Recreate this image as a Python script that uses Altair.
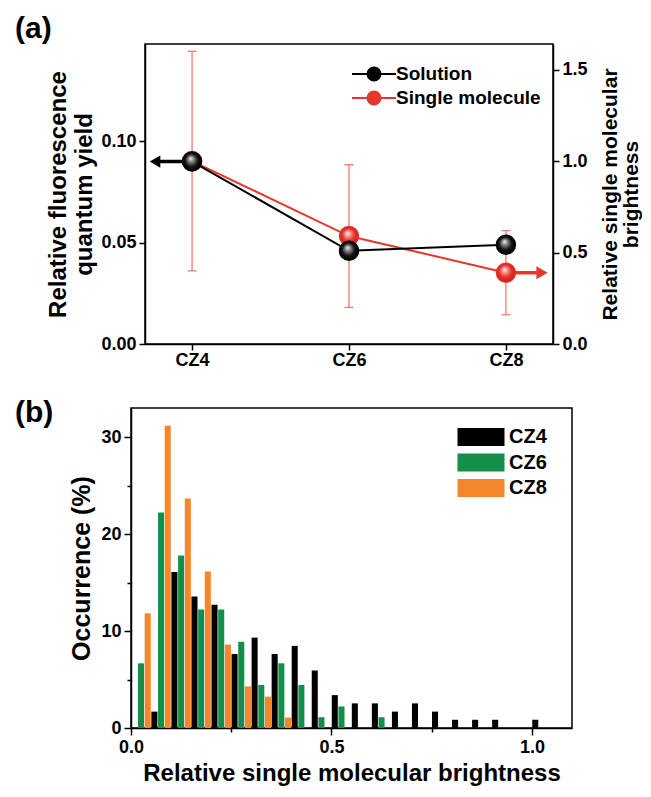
import altair as alt
import pandas as pd

# ---------------- data ----------------
compounds = ["CZ4", "CZ6", "CZ8"]
solution_qy = [0.090, 0.046, 0.049]          # left axis
single_brightness = [1.00, 0.59, 0.39]       # right axis
single_err = [0.60, 0.39, 0.23]
series_a = ["Solution", "Single molecule"]

bin_starts = [0.00, 0.05, 0.10, 0.15, 0.20, 0.25, 0.30, 0.35, 0.40, 0.45, 0.50,
              0.55, 0.60, 0.65, 0.70, 0.75, 0.80, 0.85, 0.90, 0.95, 1.00]
cz4 = [0.0, 1.69, 16.10, 13.56, 12.71, 7.63, 9.32, 7.63, 8.47, 5.93, 3.39,
       2.54, 2.54, 1.69, 2.54, 1.69, 0.85, 0.85, 0.85, 0.0, 0.85]
cz6 = [6.67, 22.22, 17.78, 12.22, 12.22, 8.89, 4.44, 6.67, 4.44, 1.11, 2.22,
       0.0, 1.11, 0.0, 0.0, 0.0, 0.0, 0.0, 0.0, 0.0, 0.0]
cz8 = [11.83, 31.18, 23.66, 16.13, 8.60, 4.30, 3.23, 1.08, 0.0, 0.0, 0.0,
       0.0, 0.0, 0.0, 0.0, 0.0, 0.0, 0.0, 0.0, 0.0, 0.0]
series_b = ["CZ4", "CZ6", "CZ8"]
bin_width = 0.05
panel_labels = ["(a)", "(b)"]

# ---------------- style ----------------
FONT = "Liberation Sans"
RED = "#e4382d"
ERR = "#ef7c6c"
GREEN = "#12904a"
ORANGE = "#f4862b"
W_A, H_A = 408, 300
W_B, H_B = 441, 320


def panel_label(text, dx, dy):
    return alt.Chart(pd.DataFrame({"t": [text]})).mark_text(
        align="left", baseline="bottom", font=FONT, fontSize=30,
        fontWeight="bold", color="black").encode(
        x=alt.value(dx), y=alt.value(dy), text="t:N")


def spacer():
    return alt.Chart(pd.DataFrame({"t": [""]})).mark_text().encode(
        text="t:N").properties(width=1, height=1,
                               view=alt.ViewBackground(stroke="transparent"))


# ---------------- panel (a) ----------------
dfa = pd.DataFrame({"compound": compounds, "qy": solution_qy,
                    "br": single_brightness, "err": single_err})
dfa["sol"] = series_a[0]
dfa["sm"] = series_a[1]

x_a = alt.X("compound:N", sort=compounds,
            scale=alt.Scale(type="point", padding=0.3),
            axis=alt.Axis(title=None, labelAngle=0, labelPadding=1, tickSize=6))

sc_left = alt.Scale(domain=[0, 0.148], nice=False)
ax_left = alt.Axis(orient="left", values=[0, 0.05, 0.10], format=".2f",
                   title=["Relative fluorescence", "quantum yield"],
                   titlePadding=4, tickSize=6, labelPadding=3)
sc_right = alt.Scale(domain=[0, 1.64], nice=False)
ax_right = alt.Axis(orient="right", values=[0, 0.5, 1.0, 1.5], format=".1f",
                    title=["Relative single molecular", "brightness"],
                    titleAngle=270, titleBaseline="top", titleAlign="center",
                    titleX=46, titleY=H_A / 2,
                    titleFontSize=21, titleLineHeight=21,
                    tickSize=6, labelPadding=3)

sphere_black = alt.RadialGradient(
    gradient="radial",
    stops=[alt.GradientStop(color="#ffffff", offset=0),
           alt.GradientStop(color="#9a9a9a", offset=0.22),
           alt.GradientStop(color="#151515", offset=0.62),
           alt.GradientStop(color="#000000", offset=0.9),
           alt.GradientStop(color="#444444", offset=1)],
    x1=0.42, y1=0.32, r1=0, x2=0.5, y2=0.5, r2=0.55)
sphere_red = alt.RadialGradient(
    gradient="radial",
    stops=[alt.GradientStop(color="#ffffff", offset=0),
           alt.GradientStop(color="#f7a5a0", offset=0.22),
           alt.GradientStop(color="#e8332a", offset=0.6),
           alt.GradientStop(color="#c81e1e", offset=1)],
    x1=0.42, y1=0.32, r1=0, x2=0.5, y2=0.5, r2=0.55)

leg_scale = alt.Scale(domain=series_a, range=["#000000", RED])
# symbol drawn wider than its nominal size so that legend rows stay compact
PATH_A = ("M-2.2,0H-0.65M0.65,0H2.2M-0.65,0A0.65,0.65,0,1,0,0.65,0"
          "A0.65,0.65,0,1,0,-0.65,0Z")
leg_a = alt.Legend(title=None, orient="none", legendX=218, legendY=19,
                   symbolType=PATH_A, symbolSize=400, symbolStrokeWidth=2,
                   labelFontSize=19, labelOffset=11, rowPadding=2, padding=0)

# left-axis (solution) layer
base_l = alt.Chart(dfa).encode(x=x_a, y=alt.Y("qy:Q", scale=sc_left, axis=ax_left))
line_l = base_l.mark_line(color="black", strokeWidth=2)
legpt_l = base_l.mark_point(filled=True, size=340, opacity=1).encode(
    fill=alt.Fill("sol:N", scale=leg_scale, legend=leg_a),
    stroke=alt.Stroke("sol:N", scale=leg_scale, legend=leg_a))
first = base_l.transform_filter(alt.datum.compound == compounds[0])
arrow_l = first.mark_rule(color="black", strokeWidth=3.5).encode(x2=alt.value(10))
head_l = first.mark_point(shape="triangle-left", filled=True, color="black",
                          size=150, opacity=1).encode(x=alt.value(10))
pts_l = base_l.mark_point(filled=True, fill=sphere_black, size=340, opacity=1,
                          strokeWidth=0)
left_layer = alt.layer(line_l, legpt_l, arrow_l, head_l, pts_l)

# right-axis (single molecule) layer
base_r = alt.Chart(dfa).transform_calculate(
    lo="datum.br - datum.err", hi="datum.br + datum.err").encode(x=x_a)
yr = lambda f: alt.Y(f, scale=sc_right, axis=ax_right)
err_rule = base_r.mark_rule(color=ERR, strokeWidth=1.3).encode(y=yr("lo:Q"), y2="hi:Q")
cap_lo = base_r.mark_tick(color=ERR, thickness=1.3, size=9, opacity=1).encode(y=yr("lo:Q"))
cap_hi = base_r.mark_tick(color=ERR, thickness=1.3, size=9, opacity=1).encode(y=yr("hi:Q"))
line_r = base_r.mark_line(color=RED, strokeWidth=2).encode(y=yr("br:Q"))
last = base_r.transform_filter(alt.datum.compound == compounds[-1])
arrow_r = last.mark_rule(color=RED, strokeWidth=3.5).encode(
    y=yr("br:Q"), x2=alt.value(W_A - 12))
head_r = last.mark_point(shape="triangle-right", filled=True, color=RED,
                         size=170, opacity=1).encode(y=yr("br:Q"), x=alt.value(W_A - 11))
legpt_r = base_r.mark_point(filled=True, size=340, opacity=1).encode(
    y=yr("br:Q"),
    fill=alt.Fill("sm:N", scale=leg_scale, legend=leg_a),
    stroke=alt.Stroke("sm:N", scale=leg_scale, legend=leg_a))
pts_r = base_r.mark_point(filled=True, fill=sphere_red, size=340, opacity=1,
                          strokeWidth=0).encode(y=yr("br:Q"))
right_layer = alt.layer(err_rule, cap_lo, cap_hi, line_r, arrow_r, head_r, legpt_r, pts_r)

chart_a = alt.layer(right_layer, left_layer, panel_label(panel_labels[0], -130, 0)
                    ).resolve_scale(y="independent").properties(width=W_A, height=H_A)

# ---------------- panel (b) ----------------
rows = []
for si, (name, vals) in enumerate(zip(series_b, [cz4, cz6, cz8])):
    for b, v in zip(bin_starts, vals):
        rows.append({"bin": b, "series": name, "slot": si, "pct": v})
dfb = pd.DataFrame(rows)

PATH_B = "M-2.35,-0.9H2.35V0.9H-2.35Z"
leg_b = alt.Legend(title=None, orient="none", legendX=340, legendY=19,
                   symbolType=PATH_B, symbolSize=400, symbolStrokeWidth=0,
                   labelFontSize=20, labelOffset=18, rowPadding=5.5, padding=0)

major_x = "datum.value % 0.5 === 0"
major_y = "datum.value % 10 === 0"
ax_xb = alt.Axis(title="Relative single molecular brightness",
                 values=[0, 0.25, 0.5, 0.75, 1.0],
                 labelExpr=f"{major_x} ? format(datum.value, '.1f') : ''",
                 tickSize={"condition": {"test": major_x, "value": 7}, "value": 4},
                 labelFlush=False, labelPadding=3, titlePadding=5)
ax_yb = alt.Axis(title="Occurrence (%)", values=[0, 5, 10, 15, 20, 25, 30],
                 labelExpr=f"{major_y} ? format(datum.value, 'd') : ''",
                 tickSize={"condition": {"test": major_y, "value": 7}, "value": 4},
                 titleFontSize=25, labelPadding=3, titlePadding=6)

bars_b = alt.Chart(dfb).transform_filter("datum.pct > 0").transform_calculate(
    xa=f"datum.bin + datum.slot * {bin_width} / 3 + 0.0008",
    xb=f"datum.bin + (datum.slot + 1) * {bin_width} / 3 - 0.0008",
).mark_bar().encode(
    x=alt.X("xa:Q", scale=alt.Scale(domain=[0, 1.1], nice=False, zero=False), axis=ax_xb),
    x2="xb:Q",
    y=alt.Y("pct:Q", scale=alt.Scale(domain=[0, 33], nice=False), axis=ax_yb),
    y2=alt.datum(0),
    color=alt.Color("series:N", scale=alt.Scale(domain=series_b,
                                                range=["#000000", GREEN, ORANGE]),
                    legend=leg_b),
)
chart_b = alt.layer(bars_b, panel_label(panel_labels[1], -116, 20)).properties(
    width=W_B, height=H_B)

indep = dict(color="independent", fill="independent", stroke="independent")
row_a = alt.hconcat(spacer(), chart_a, spacing=0).resolve_scale(**indep)
row_b = alt.hconcat(spacer(), chart_b, spacing=0).resolve_scale(**indep)

chart = alt.vconcat(row_a, row_b, spacing=27).resolve_scale(**indep).configure_view(
    stroke="black", strokeWidth=1.5
).configure_axis(
    labelFont=FONT, labelFontWeight="bold", labelFontSize=18, labelColor="black",
    titleFont=FONT, titleFontWeight="bold", titleFontSize=24, titleColor="black",
    domainColor="black", domainWidth=1.5, tickColor="black", tickWidth=1.5, grid=False
).configure_legend(
    labelFont=FONT, labelFontWeight="bold", labelColor="black"
).properties(background="white",
             padding={"top": 5, "left": 3, "right": 0, "bottom": 0})

chart.save("out.html", embed_options={"renderer": "svg", "actions": False})
